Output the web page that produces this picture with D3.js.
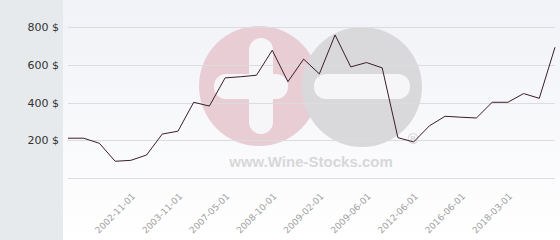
<!DOCTYPE html>
<html><head><meta charset="utf-8">
<script src="https://cdn.jsdelivr.net/npm/d3@7"></script>
<style>html,body{margin:0;padding:0;background:#fff;}svg{display:block;}</style>
</head><body>
<svg id="c" width="560" height="240"></svg>
<script>
const prices = [212,212,185,90,95,123,234,249,402,382,531,537,545,677,511,630,552,758,589,612,584,215,192,277,328,323,319,402,402,448,423,693];
const labelIndex = [4,7,10,13,16,19,22,25,28];
const labelText = ["2002-11-01","2003-11-01","2007-05-01","2008-10-01","2009-02-01","2009-06-01","2012-06-01","2016-06-01","2018-03-01"];
const yTicks = [200,400,600,800];

const svg = d3.select("#c");
const W=560,H=240, panelX=63;
const defs = svg.append("defs");
const g = defs.append("linearGradient").attr("id","bg").attr("x1",0).attr("y1",0).attr("x2",0).attr("y2",1);
g.append("stop").attr("offset","0%").attr("stop-color","#f1f2f7");
g.append("stop").attr("offset","100%").attr("stop-color","#ffffff");

svg.append("rect").attr("x",0).attr("y",0).attr("width",panelX).attr("height",H).attr("fill","#e6eaed");
svg.append("rect").attr("x",panelX).attr("y",0).attr("width",W-panelX).attr("height",H).attr("fill","url(#bg)");

const x = d3.scalePoint().domain(d3.range(prices.length)).range([68,555]);
const y = d3.scaleLinear().domain([0,800]).range([178.3,27]);

// watermark
const wm = svg.append("g");
wm.append("circle").attr("cx",259).attr("cy",86).attr("r",60).attr("fill","#e9cdd4");
wm.append("circle").attr("cx",362).attr("cy",87).attr("r",60).attr("fill","#d9d9dc");
wm.append("rect").attr("x",249).attr("y",38).attr("width",24).attr("height",96).attr("rx",12).attr("fill","#f6f6f9");
wm.append("rect").attr("x",214).attr("y",74).attr("width",74).attr("height",25).attr("rx",12).attr("fill","#f6f6f9");
wm.append("rect").attr("x",314).attr("y",74).attr("width",96).attr("height",25).attr("rx",12).attr("fill","#f6f6f9");
wm.append("text").attr("x",311).attr("y",167).attr("text-anchor","middle")
  .attr("font-family","Liberation Sans, Arial, sans-serif").attr("font-weight","bold").attr("font-size",15)
  .attr("fill","#d7d7d9").text("www.Wine-Stocks.com");
wm.append("text").attr("x",413).attr("y",144).attr("text-anchor","middle")
  .attr("font-family","DejaVu Sans, sans-serif").attr("font-size",14).attr("fill","#d0d0d2").text("\u00AE");

// grid
svg.append("g").selectAll("line").data([0].concat(yTicks)).join("line")
  .attr("x1",68).attr("x2",555).attr("y1",d=>Math.round(y(d))+0.5).attr("y2",d=>Math.round(y(d))+0.5)
  .attr("stroke","#dcdcdf").attr("stroke-width",1);

// y labels
svg.append("g").selectAll("text").data(yTicks).join("text")
  .attr("x",59).attr("y",d=>y(d)+4).attr("text-anchor","end")
  .attr("font-family","DejaVu Sans, Verdana, sans-serif").attr("font-size",11).attr("fill","#333")
  .text(d=>d3.format("d")(d)+" $");

// x labels
svg.append("g").selectAll("text").data(labelIndex).join("text")
  .attr("transform",d=>`translate(${x(d)+5},197) rotate(-45)`).attr("text-anchor","end")
  .attr("font-family","DejaVu Sans, Verdana, sans-serif").attr("font-size",9).attr("fill","#a0a0a0")
  .text((d,i)=>labelText[i]);

// line
svg.append("path").datum(prices)
  .attr("d",d3.line().x((d,i)=>x(i)).y(d=>y(d)))
  .attr("fill","none").attr("stroke","#3a1d2a").attr("stroke-width",1);
</script>
</body></html>
